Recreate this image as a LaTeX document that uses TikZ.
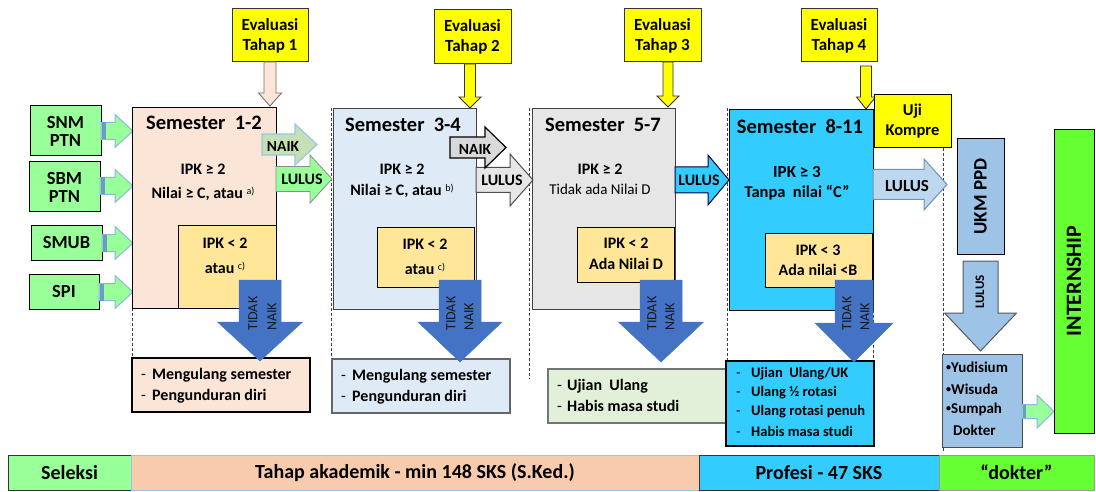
\documentclass[tikz,border=0pt]{standalone}
\usepackage{fontspec}
\setmainfont{Carlito}
\newcommand{\fz}[2]{\fontsize{#1}{#2}\selectfont}
\newcommand{\dsh}[1]{\makebox[#1][l]{\mdseries -}}
\newcommand{\bul}{\raisebox{0.2ex}{\fz{10}{10}•}}
\definecolor{ingreen}{HTML}{99FF99}
\definecolor{peach}{HTML}{FBE5D6}
\definecolor{ltblue}{HTML}{DEEBF7}
\definecolor{ltgray}{HTML}{E7E6E6}
\definecolor{cyanx}{HTML}{33CCFF}
\definecolor{ipkyel}{HTML}{FFE699}
\definecolor{naikgreen}{HTML}{C5E0B4}
\definecolor{edgeblue}{HTML}{8FB4E3}
\definecolor{midblue}{HTML}{9DC3E6}
\definecolor{paleblue}{HTML}{BDD7EE}
\definecolor{tidakblue}{HTML}{4472C4}
\definecolor{brightgreen}{HTML}{66FF33}
\definecolor{palegreen}{HTML}{E2F0D9}
\definecolor{barpeach}{HTML}{F8CBAD}
\definecolor{evalyellow}{HTML}{FFFF00}
\definecolor{stripcol}{HTML}{6C9BC8}
% right block arrow: [style]{xstart}{xhead}{xtip}{ycenter}{shaft half}{head half}
\newcommand{\rarr}[7][]{\draw[#1] (#2,#5-#6) -- (#3,#5-#6) -- (#3,#5-#7) -- (#4,#5) -- (#3,#5+#7) -- (#3,#5+#6) -- (#2,#5+#6) -- cycle;}
% down block arrow: [style]{ystart}{yhead}{ytip}{xcenter}{shaft half}{head half}
\newcommand{\darr}[7][]{\draw[#1] (#5-#6,#2) -- (#5-#6,#3) -- (#5-#7,#3) -- (#5,#4) -- (#5+#7,#3) -- (#5+#6,#3) -- (#5+#6,#2) -- cycle;}
% box: [style]{x1}{y1}{x2}{y2}{name}
\newcommand{\bx}[6][]{\node[boxst,#1,minimum width={#4-#2},minimum height={#5-#3},anchor=north west] (#6) at (#2,#3) {};}
\begin{document}
\begin{tikzpicture}[x=1pt,y=-1pt,
  boxst/.style={draw=black,line width=1pt,inner sep=0pt,outer sep=0pt},
  txt/.style={inner sep=0pt,outer sep=0pt,font=\bfseries\fz{16}{19},text=black,align=center},
  sepline/.style={draw=black!75,line width=0.8pt,dash pattern=on 3pt off 2pt},
  inarrow/.style={fill=ingreen,draw=edgeblue,line width=1pt},
  evarrow/.style={fill=evalyellow,draw=black!80,line width=0.9pt},
  tidak/.style={fill=tidakblue,draw=tidakblue,line width=0.5pt},
  ttxt/.style={inner sep=0pt,font=\fz{14}{14},text=black!90,rotate=90,anchor=west},
  lline/.style={inner sep=0pt,anchor=west,font=\bfseries\fz{16}{19}}
]
\fill[white] (0,0) rectangle (1096,492);
\useasboundingbox (0,0) rectangle (1096,492);

% column separators
\draw[sepline] (132,108) -- (132,360);
\draw[sepline] (331,108) -- (331,379);
\draw[sepline] (529,108) -- (529,379);
\draw[sepline] (727,108) -- (727,361);
\draw[sepline] (873,110) -- (873,361);
\draw[sepline] (943,148) -- (943,453);

% input boxes
\bx[fill=ingreen]{30}{106}{101}{156}{snm}
\bx[fill=ingreen]{29}{162}{100}{212}{sbm}
\bx[fill=ingreen]{31}{226}{102}{260}{smub}
\bx[fill=ingreen]{29}{274}{99}{309}{spi}
\node[txt,font=\bfseries\fz{18.5}{18}] (snmt) at (snm) {SNM\\PTN};
\node[txt,font=\bfseries\fz{18.5}{18}] (sbmt) at (sbm) {SBM\\PTN};
\node[txt,font=\bfseries\fz{18.5}{18}] (smubt) at (smub) {SMUB};
\node[txt,font=\bfseries\fz{18.5}{18}] (spit) at (spi) {SPI};
\rarr[inarrow]{101}{115}{133}{131}{8.5}{16.5}
\rarr[inarrow]{100}{115}{133}{186}{8.5}{16.5}
\rarr[inarrow]{102}{115}{133}{243}{8.5}{16.5}
\rarr[inarrow]{99}{115}{133}{292}{8.5}{16.5}
\fill[stripcol] (101.5,122.5) rectangle (106,139.5);
\fill[stripcol] (100.5,177.5) rectangle (105,194.5);
\fill[stripcol] (102.5,234.5) rectangle (107,251.5);
\fill[stripcol] (99.5,283.5) rectangle (104,300.5);

% evaluation boxes
\bx[fill=evalyellow,draw=black!80]{232}{9}{308}{62}{e1}
\bx[fill=evalyellow,draw=black!80]{434}{10}{511}{64}{e2}
\bx[fill=evalyellow,draw=black!80]{624}{9}{701}{62}{e3}
\bx[fill=evalyellow,draw=black!80]{801}{9}{877}{62}{e4}
\node[txt,font=\bfseries\fz{17}{20}] (e1t) at (e1) {Evaluasi\\Tahap 1};
\node[txt,font=\bfseries\fz{17}{20}] (e2t) at (e2) {Evaluasi\\Tahap 2};
\node[txt,font=\bfseries\fz{17}{20}] (e3t) at (e3) {Evaluasi\\Tahap 3};
\node[txt,font=\bfseries\fz{17}{20}] (e4t) at (e4) {Evaluasi\\Tahap 4};
\darr[fill=peach,draw=black!55,line width=0.9pt]{62}{93}{106}{270}{6}{11.5}
\darr[evarrow]{64}{97}{108}{470}{5.5}{11}
\darr[evarrow]{62}{96}{107}{668}{5}{11}
\darr[evarrow]{66}{97}{109}{866}{5.5}{9.5}

% semester boxes
\bx[fill=peach]{132}{108}{276}{308}{s1}
\bx[fill=ipkyel]{178}{226}{276}{308}{i1}
\bx[fill=ltblue,draw=black!75]{333}{109}{476}{309}{s2}
\bx[fill=ipkyel]{377}{228}{474}{287}{i2}
\bx[fill=ltgray,draw=black!75]{532}{109}{675}{309}{s3}
\bx[fill=ipkyel]{577}{228}{674}{282}{i3}
\bx[fill=cyanx]{729}{110}{873}{310}{s4}
\bx[fill=ipkyel]{765}{233}{872}{287}{i4}

% lower boxes
\bx[fill=peach,line width=1.4pt]{132}{358}{310}{412}{l1}
\bx[fill=ltblue,draw=black!60,line width=1.2pt]{332}{359}{510}{413}{l2}
\bx[fill=palegreen,draw=black!55,line width=1.2pt]{548}{369}{727}{423}{l3}
\bx[fill=cyanx,line width=1.4pt]{726}{361}{874}{446}{l4}

% TIDAK NAIK arrows
\darr[tidak]{280}{322}{361}{260}{21}{42.5}
\darr[tidak]{280}{322}{362}{460}{21}{42}
\darr[tidak]{280}{322}{362}{661}{21}{42.5}
\darr[tidak]{280}{323}{362}{854}{19}{39}
\node[ttxt] (t1a) at (253,331) {TIDAK};
\node[ttxt] (t1b) at (272,331) {NAIK};
\node[ttxt] (t2a) at (451,331) {TIDAK};
\node[ttxt] (t2b) at (469,331) {NAIK};
\node[ttxt] (t3a) at (652,331) {TIDAK};
\node[ttxt] (t3b) at (670,331) {NAIK};
\node[ttxt] (t4a) at (847,331) {TIDAK};
\node[ttxt] (t4b) at (865,331) {NAIK};

% NAIK / LULUS arrows
\rarr[fill=naikgreen,draw=midblue,line width=1.2pt]{262}{295}{317}{144.5}{10.5}{20.5}
\node[txt,font=\bfseries\fz{15.5}{18}] (n1) at (283,146) {NAIK};
\rarr[fill=ingreen,draw=black!45,line width=0.8pt]{276}{310}{332}{179}{12.5}{24}
\node[txt] (lu1) at (302,179) {LULUS};
\rarr[fill=ltgray,draw=black!70,line width=1pt]{476}{510}{533}{180}{12.5}{26}
\node[txt] (lu2) at (502,180) {LULUS};
\rarr[fill=black!15,draw=black,line width=1.2pt]{450}{485}{506}{147.5}{10.5}{20.5}
\node[txt,font=\bfseries\fz{15.5}{18}] (n2) at (475,149) {NAIK};
\rarr[fill=cyanx,draw=black!75!blue,line width=1pt]{675}{708}{729}{180}{13}{25}
\node[txt] (lu3) at (699,180) {LULUS};
\rarr[fill=paleblue,draw=edgeblue!80!black,line width=1pt]{873}{924}{947}{184.5}{15}{25.5}
\node[txt,font=\bfseries\fz{17}{19}] (lu4) at (907,186) {LULUS};

% semester texts
\node[txt,font=\bfseries\fz{20.5}{24}] (s1t) at (204,123) {Semester\ \ 1-2};
\node[txt] (s1a) at (203,169) {IPK ≥ 2};
\node[txt] (s1b) at (203,194) {Nilai ≥ C, atau \raisebox{0.55ex}{\fz{10}{12}\mdseries a)}};
\node[txt] (i1a) at (225,243) {IPK < 2};
\node[txt] (i1b) at (225,268) {atau \raisebox{0.55ex}{\fz{10}{12}\mdseries c)}};

\node[txt,font=\bfseries\fz{20.5}{24}] (s2t) at (403,125) {Semester\ \ 3-4};
\node[txt] (s2a) at (402,169) {IPK ≥ 2};
\node[txt] (s2b) at (402,191) {Nilai ≥ C, atau \raisebox{0.55ex}{\fz{10}{12}\mdseries b)}};
\node[txt] (i2a) at (425,244) {IPK < 2};
\node[txt] (i2b) at (425,269) {atau \raisebox{0.55ex}{\fz{10}{12}\mdseries c)}};

\node[txt,font=\bfseries\fz{20.5}{24}] (s3t) at (603,125) {Semester\ \ 5-7};
\node[txt] (s3a) at (600,169) {IPK ≥ 2};
\node[txt,font=\fz{15}{18}] (s3b) at (600,189) {Tidak ada Nilai D};
\node[txt] (i3a) at (626,243) {IPK < 2};
\node[txt] (i3b) at (626,264) {Ada Nilai D};

\node[txt,font=\bfseries\fz{20.5}{24}] (s4t) at (800,126) {Semester\ \ 8-11};
\node[txt,font=\bfseries\fz{17}{20}] (s4a) at (797,172) {IPK ≥ 3};
\node[txt,font=\bfseries\fz{16.5}{20}] (s4b) at (797,193) {Tanpa\ \ nilai “C”};
\node[txt] (i4a) at (818,250) {IPK < 3};
\node[txt] (i4b) at (818,270) {Ada nilai <B};

% lower box texts
\node[lline] (l1a) at (141,375) {\dsh{11pt}Mengulang semester};
\node[lline] (l1b) at (141,396) {\dsh{11pt}Pengunduran diri};
\node[lline] (l2a) at (341,376) {\dsh{11pt}Mengulang semester};
\node[lline] (l2b) at (341,397) {\dsh{11pt}Pengunduran diri};
\node[lline] (l3a) at (557,386) {\dsh{10pt}Ujian\ \ Ulang};
\node[lline] (l3b) at (557,406) {\dsh{10pt}Habis masa studi};
\node[lline,font=\bfseries\fz{14.5}{17}] (l4a) at (736,374) {\dsh{15pt}Ujian\ \ Ulang/UK};
\node[lline,font=\bfseries\fz{14.5}{17}] (l4b) at (736,393) {\dsh{15pt}Ulang ½ rotasi};
\node[lline,font=\bfseries\fz{14.5}{17}] (l4c) at (736,412) {\dsh{15pt}Ulang rotasi penuh};
\node[lline,font=\bfseries\fz{14.5}{17}] (l4e) at (736,431) {\dsh{15pt}Habis masa studi};

% Uji Kompre and final column
\bx[fill=evalyellow]{874}{95}{951}{148}{uji}
\node[txt,font=\bfseries\fz{16.5}{20}] (ujit) at (uji) {Uji\\Kompre};
\bx[fill=midblue]{957}{139}{1004}{254}{ukm}
\node[txt,font=\bfseries\fz{19}{22},rotate=90] (ukmt) at (ukm) {UKM PPD};
\darr[fill=midblue,draw=black!65,line width=1pt]{261}{313}{351}{980.5}{17.5}{36}
\node[txt,font=\bfseries\fz{13}{15},rotate=90] (lu5) at (980,292) {LULUS};
\bx[fill=midblue,draw=black!70]{942}{354}{1022}{447}{yud}
\node[lline,font=\bfseries\fz{15}{18}] (y1) at (946,367) {\bul Yudisium};
\node[lline,font=\bfseries\fz{15}{18}] (y2) at (946,389) {\bul Wisuda};
\node[lline,font=\bfseries\fz{15}{18}] (y3) at (946,409) {\bul Sumpah};
\node[lline,font=\bfseries\fz{15}{18}] (y4) at (953,430) {Dokter};
\rarr[inarrow]{1022}{1037}{1054}{411.5}{7}{16.5}
\fill[stripcol] (1022.5,405) rectangle (1026,418);
\bx[fill=brightgreen]{1054}{130}{1094}{433}{intern}
\node[txt,font=\bfseries\fz{22}{24},rotate=90] (internt) at (1074,281) {INTERNSHIP};

% bottom bar
\bx[fill=ingreen,draw=black!80]{8}{455}{131}{490}{b1}
\bx[fill=barpeach,draw=midblue]{131}{455}{699}{490}{b2}
\bx[fill=cyanx,draw=black!80]{699}{455}{939}{490}{b3}
\bx[fill=brightgreen,draw=black!40]{939}{455}{1094}{490}{b4}
\node[txt,font=\bfseries\fz{20}{24}] (b1t) at (b1) {Seleksi};
\node[txt,font=\bfseries\fz{20}{24}] (b2t) at (b2) {Tahap akademik - min 148 SKS (S.Ked.)};
\node[txt,font=\bfseries\fz{20}{24}] (b3t) at (b3) {Profesi - 47 SKS};
\node[txt,font=\bfseries\fz{20}{24}] (b4t) at (b4) {“dokter”};
\end{tikzpicture}
\end{document}
